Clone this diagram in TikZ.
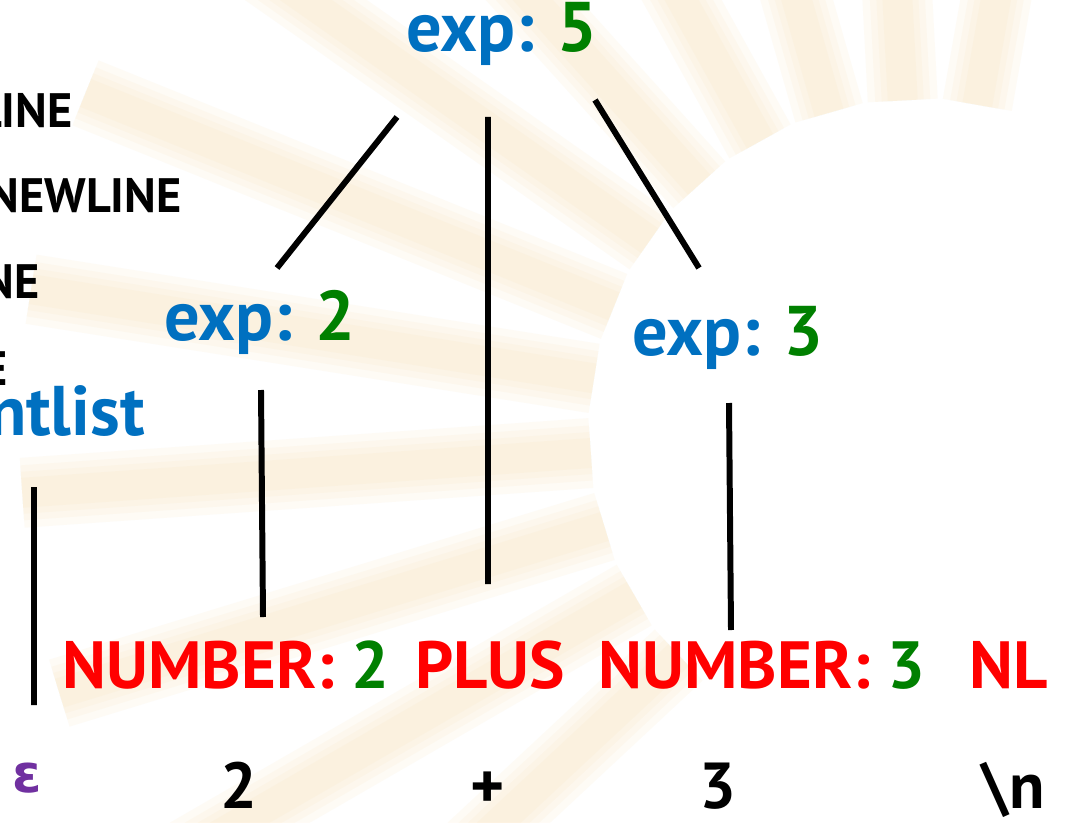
\documentclass[tikz,border=0pt]{standalone}
\usepackage{fontspec}
\setmainfont{PT Sans}
\newfontfamily\epsfont{DejaVu Sans}
\usepackage{xcolor}
\usepackage{tikz}
\usetikzlibrary{positioning,calc}

\definecolor{expblue}{RGB}{0,112,192}
\definecolor{valgreen}{RGB}{0,128,0}
\definecolor{tokred}{RGB}{255,0,0}
\definecolor{epspurple}{RGB}{112,48,160}
\definecolor{raycol}{RGB}{251,224,180}
\newcommand{\val}[1]{\textcolor{valgreen}{#1}}

\begin{document}
\begin{tikzpicture}[
 nt/.style={anchor=base,inner sep=0pt,text=expblue,font=\fontsize{40}{48}\selectfont\bfseries},
 tok/.style={anchor=base,inner sep=0pt,text=tokred,font=\fontsize{38}{46}\selectfont\bfseries},
 lex/.style={anchor=base,inner sep=0pt,text=black,font=\fontsize{37}{44}\selectfont\bfseries},
 kw/.style={anchor=base east,inner sep=0pt,text=black,font=\fontsize{27.5}{33}\selectfont\bfseries},
 ray/.style={fill=raycol,opacity=0.12},
 edge/.style={line width=3.4pt,black}]
\useasboundingbox (0,0) rectangle (21.34,16.44);
\clip (0,0) rectangle (21.34,16.44);
\fill[white] (0,0) rectangle (21.34,16.44);

% sunburst behind the tree, soft edges from stacked bars
\coordinate (sun) at (18.4,7.84);
\foreach \a in {80,93,106,119,132,145,158,171,184,197,210,223}
 \foreach \w in {0.7,0.55,0.42,0.3}
  \fill[ray,rotate around={\a:(sun)}] ($(sun)+(6.6,-\w)$) rectangle ($(sun)+(18,\w)$);

% grammar rules, left column (runs off the left edge)
\node[kw] (r1) at (1.46,13.90) {LINE};
\node[kw] (r2) at (3.64,12.20) {NEWLINE};
\node[kw] (r3) at (0.80,10.48) {NE};
\node[kw] (r4) at (0.16,8.74) {E};
\node[nt,anchor=base east] (st) at (2.90,7.74) {ntlist};

% parse tree
\node[nt] (e5) at (10.04,15.40) {exp: \val{5}};
\node[nt] (e2) at (5.20,9.64) {exp: \val{2}};
\node[nt] (e3) at (14.56,9.34) {exp: \val{3}};

\node[tok] (n2) at (4.52,2.68) {NUMBER: \val{2}};
\node[tok] (pl) at (9.80,2.68) {PLUS};
\node[tok] (n3) at (15.24,2.68) {NUMBER: \val{3}};
\node[tok] (nl) at (20.18,2.68) {NL};

\node[lex,text=epspurple,font=\fontsize{30}{36}\epsfont\bfseries] (eps) at (0.55,0.60) {ε};
\node[lex] (c2) at (4.78,0.28) {2};
\node[lex] (cp) at (9.76,0.28) {+};
\node[lex] (c3) at (14.36,0.28) {3};
\node[lex] (cn) at (20.26,0.28) {\textbackslash n};

\draw[edge] ([shift={(-2.10,-1.30)}]e5.base) -- ([shift={(0.34,1.44)}]e2.base);
\draw[edge] ([shift={(-0.28,-1.30)}]e5.base) -- ([shift={(-0.04,2.08)}]pl.base);
\draw[edge] ([shift={(1.86,-0.96)}]e5.base) -- ([shift={(-0.58,1.74)}]e3.base);
\draw[edge] ([shift={(0.02,-1.00)}]e2.base) -- ([shift={(0.74,1.42)}]n2.base);
\draw[edge] ([shift={(0.02,-0.96)}]e3.base) -- ([shift={(-0.62,1.16)}]n3.base);
\draw[edge] ([shift={(-2.22,-1.04)}]st.base east) -- ([shift={(0.13,1.74)}]eps.base);
\end{tikzpicture}
\end{document}
